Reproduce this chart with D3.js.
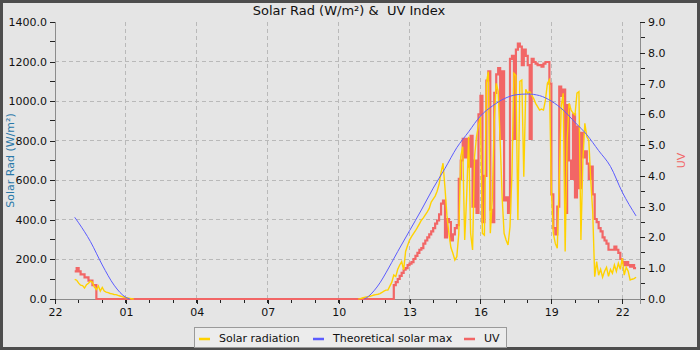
<!DOCTYPE html>
<html>
<head>
<meta charset="utf-8">
<script src="https://cdn.jsdelivr.net/npm/d3@7"></script>
<style>
  body { margin: 0; background: #e5e5e5; }
  svg { display: block; font-family: "DejaVu Sans", sans-serif; }
</style>
</head>
<body>
<script>
// 5-minute readings. evening block starts 22:50 (day 0), day block starts 10:50 (day 1)
const solarEve = [99, 95, 80, 70, 68, 55, 72, 80, 90, 85, 60, 48, 66, 40, 58, 40,
  35, 32, 28, 26, 23, 22, 18, 15, 12, 9, 7, 5, 3, 1, 0]
const solarDay = [0, 2,
  5, 8, 10, 12, 14, 17, 20, 22, 24, 27, 33, 40,
  45, 45, 65, 85, 121, 113, 150, 172, 189, 147, 240, 270,
  298, 315, 330, 345, 362, 380, 398, 410, 425, 440, 458, 490,
  505, 520, 545, 580, 640, 686, 560, 420, 330, 260, 231, 197,
  214, 330, 720, 770, 298, 520, 820, 332, 248, 719, 820, 880,
  921, 332, 323, 1090, 1149, 332, 500, 900, 1090, 1050, 803, 517,
  332, 298, 273, 365, 635, 1141, 1130, 399, 1100, 1107, 618, 1060,
  1040, 1048, 1030, 1014, 989, 972, 955, 960, 955, 1006, 1090, 1107,
  551, 332, 281, 256, 601, 972, 1040, 240, 800, 989, 955, 940,
  930, 1040, 1048, 298, 700, 888, 820, 803, 600, 440, 113, 189,
  120, 150, 110, 140, 160, 115, 150, 130, 172, 140, 180, 150,
  206, 121, 160, 140, 96, 100, 103, 110]

const uvEve = [0.9, 1.0, 0.9, 0.8, 0.8, 0.7, 0.7, 0.6, 0.6, 0.45, 0.45, 0]
const uvDay = [0, 0,
  0, 0, 0, 0, 0, 0, 0, 0, 0, 0, 0, 0,
  0, 0, 0, 0, 0.45, 0.55, 0.65, 0.75, 0.85, 0.95, 1.0, 1.1,
  1.15, 1.2, 1.3, 1.4, 1.5, 1.6, 1.65, 1.8, 1.9, 2.0, 2.1, 2.2,
  2.3, 2.45, 2.55, 2.75, 3.1, 3.2, 2.0, 2.6, 2.5, 1.9, 2.1, 2.3,
  2.4, 3.9, 4.5, 5.2, 4.6, 5.2, 4.3, 5.3, 3.0, 4.5, 2.8, 6.0,
  6.6, 2.5, 4.0, 7.1, 7.4, 2.9, 2.5, 6.7, 7.3, 7.5, 5.2, 7.4,
  3.2, 3.3, 2.8, 7.8, 7.9, 5.2, 8.1, 8.3, 8.2, 7.6, 8.1, 7.9,
  7.6, 5.2, 7.8, 7.7, 7.65, 7.6, 7.6, 7.55, 7.65, 7.7, 7.7, 7.0,
  3.4, 2.3, 2.1, 3.0, 6.9, 6.6, 6.8, 2.8, 6.3, 4.5, 3.9, 6.0,
  3.3, 5.6, 3.6, 5.4, 4.6, 4.8, 4.4, 3.9, 4.3, 3.4, 2.6, 2.5,
  2.3, 2.2, 2.0, 1.9, 1.8, 1.6, 1.6, 1.6, 1.7, 1.6, 1.5, 1.3,
  1.2, 1.1, 1.2, 1.1, 1.05, 1.1, 1.0, 1.0]

const theoEveTimes = ["22:50", "23:00", "23:30", "00:00", "00:30", "01:00", "01:10"]
const theoEve = [413, 385, 290, 172, 70, 8, 0]
const theoDayTimes = ["11:05", "11:15", "11:30", "11:45", "12:00", "12:30", "13:00", "13:30",
  "14:00", "14:30", "15:00", "15:30", "16:00", "16:30", "17:00", "17:30", "18:00", "18:30",
  "19:00", "19:30", "20:00", "20:30", "21:00", "21:30", "22:00", "22:35"]
const theoDay = [0, 12, 42, 82, 132, 240, 345, 450, 560, 660, 765, 845, 925, 975, 1012,
  1032, 1036, 1028, 1000, 955, 893, 830, 750, 670, 540, 420]

const solarTicks = [0, 200, 400, 600, 800, 1000, 1200, 1400]
const uvTicks = [0, 1, 2, 3, 4, 5, 6, 7, 8, 9]

const W = 700, H = 350
const m = {top: 22, right: 60, bottom: 51, left: 55}

function at(day, hm) {
  const [h, mi] = hm.split(":").map(Number)
  return new Date(2024, 0, 1 + day, h, mi)
}
function every5(day, start, vals) {
  const t0 = +at(day, start)
  return vals.map((v, i) => ({t: new Date(t0 + i * 300000), v}))
}

const solar1 = every5(0, "22:50", solarEve)
const solar2 = every5(1, "10:50", solarDay)
const uv = every5(0, "22:50", uvEve).concat(every5(1, "10:50", uvDay))
const theo1 = theoEveTimes.map((s, i) => ({t: at(+s.slice(0, 2) >= 12 ? 0 : 1, s), v: theoEve[i]}))
const theo2 = theoDayTimes.map((s, i) => ({t: at(1, s), v: theoDay[i]}))

const t0 = at(0, "22:00"), t1 = at(1, "22:45")
const x = d3.scaleTime().domain([t0, t1]).range([m.left, W - m.right])
const yL = d3.scaleLinear().domain([0, 1400]).range([H - m.bottom, m.top])
const yR = d3.scaleLinear().domain([0, 9]).range([H - m.bottom, m.top])

const svg = d3.select("body").append("svg").attr("width", W).attr("height", H)

svg.append("rect").attr("x", 0).attr("y", 0).attr("width", W).attr("height", H)
  .attr("fill", "#e5e5e5").attr("stroke", "#4d4d4d").attr("stroke-width", 6)

// grid
const majorHours = d3.timeHour.range(t0, t1, 3)
const grid = svg.append("g").attr("stroke", "#b9b9b9").attr("stroke-dasharray", "4,3")
  .attr("shape-rendering", "crispEdges")
grid.selectAll(".gy").data(solarTicks.slice(1, -1)).join("line")
  .attr("x1", m.left).attr("x2", W - m.right)
  .attr("y1", d => yL(d)).attr("y2", d => yL(d))
grid.selectAll(".gx").data(majorHours.slice(1)).join("line")
  .attr("x1", d => x(d)).attr("x2", d => x(d))
  .attr("y1", m.top).attr("y2", H - m.bottom)

function styleAxis(g) {
  g.attr("font-family", "DejaVu Sans, sans-serif").attr("font-size", 11)
  g.select(".domain").attr("stroke", "#8c8c8c")
  g.selectAll(".tick line").attr("stroke", "#222")
  g.selectAll(".tick text").attr("fill", "#111")
  g.attr("shape-rendering", "crispEdges")
}

// minor ticks
const minor = svg.append("g").attr("stroke", "#222").attr("shape-rendering", "crispEdges")
minor.selectAll(".ml").data(d3.range(100, 1400, 200)).join("line")
  .attr("x1", m.left - 5).attr("x2", m.left).attr("y1", d => yL(d)).attr("y2", d => yL(d))
minor.selectAll(".mr").data(d3.range(0.5, 9, 1)).join("line")
  .attr("x1", W - m.right).attr("x2", W - m.right + 5).attr("y1", d => yR(d)).attr("y2", d => yR(d))
minor.selectAll(".mx").data(d3.timeHour.range(t0, t1)).join("line")
  .attr("x1", d => x(d)).attr("x2", d => x(d)).attr("y1", H - m.bottom).attr("y2", H - m.bottom + 4)

svg.append("g").attr("transform", `translate(${m.left},0)`)
  .call(d3.axisLeft(yL).tickValues(solarTicks).tickFormat(d3.format(".1f")).tickSize(5).tickPadding(3))
  .call(styleAxis)
svg.append("g").attr("transform", `translate(${W - m.right},0)`)
  .call(d3.axisRight(yR).tickValues(uvTicks).tickFormat(d3.format(".1f")).tickSize(5).tickPadding(3))
  .call(styleAxis)
svg.append("g").attr("transform", `translate(0,${H - m.bottom})`)
  .call(d3.axisBottom(x).tickValues(majorHours).tickFormat(d3.timeFormat("%H")).tickSize(5).tickPadding(4))
  .call(styleAxis)

// series
const lineL = d3.line().x(d => x(d.t)).y(d => yL(d.v))
const lineUV = d3.line().x(d => x(d.t)).y(d => yR(d.v)).curve(d3.curveStepAfter)
const lineTheo = d3.line().x(d => x(d.t)).y(d => yL(d.v)).curve(d3.curveMonotoneX)

const cUV = "#f26666", cSolar = "#ffd200", cTheo = "#5c5cff"

svg.append("path").attr("d", lineUV(uv)).attr("fill", "none")
  .attr("stroke", cUV).attr("stroke-width", 2.2)
for (const s of [solar1, solar2]) {
  svg.append("path").attr("d", lineL(s)).attr("fill", "none")
    .attr("stroke", cSolar).attr("stroke-width", 1.4)
}
for (const s of [theo1, theo2]) {
  svg.append("path").attr("d", lineTheo(s)).attr("fill", "none")
    .attr("stroke", cTheo).attr("stroke-width", 1)
}

// titles
svg.append("text").attr("x", 349).attr("y", 15).attr("text-anchor", "middle")
  .style("white-space", "pre")
  .attr("font-size", 13).attr("fill", "#111").text("Solar Rad (W/m²) &  UV Index")
svg.append("text").attr("transform", `translate(14,${(m.top + H - m.bottom) / 2}) rotate(-90)`)
  .attr("text-anchor", "middle").attr("font-size", 11).attr("fill", "#2a78a8")
  .text("Solar Rad (W/m²)")
svg.append("text").attr("transform", `translate(685,${(m.top + H - m.bottom) / 2}) rotate(-90)`)
  .attr("text-anchor", "middle").attr("font-size", 11).attr("fill", cUV).text("UV")

// legend
const legendItems = [
  {name: "Solar radiation", color: cSolar, x: 199},
  {name: "Theoretical solar max", color: cTheo, x: 313},
  {name: "UV", color: cUV, x: 464}
]
const lg = svg.append("g")
lg.append("rect").attr("x", 194.5).attr("y", 327.5).attr("width", 312).attr("height", 20)
  .attr("fill", "#ececec").attr("stroke", "#9a9a9a")
const li = lg.selectAll(".li").data(legendItems).join("g")
li.append("line").attr("x1", d => d.x).attr("x2", d => d.x + 11)
  .attr("y1", 339).attr("y2", 339).attr("stroke", d => d.color).attr("stroke-width", 2.5)
li.append("text").attr("x", d => d.x + 20).attr("y", 341.5).attr("font-size", 11)
  .attr("fill", "#111").text(d => d.name)
</script>
</body>
</html>
